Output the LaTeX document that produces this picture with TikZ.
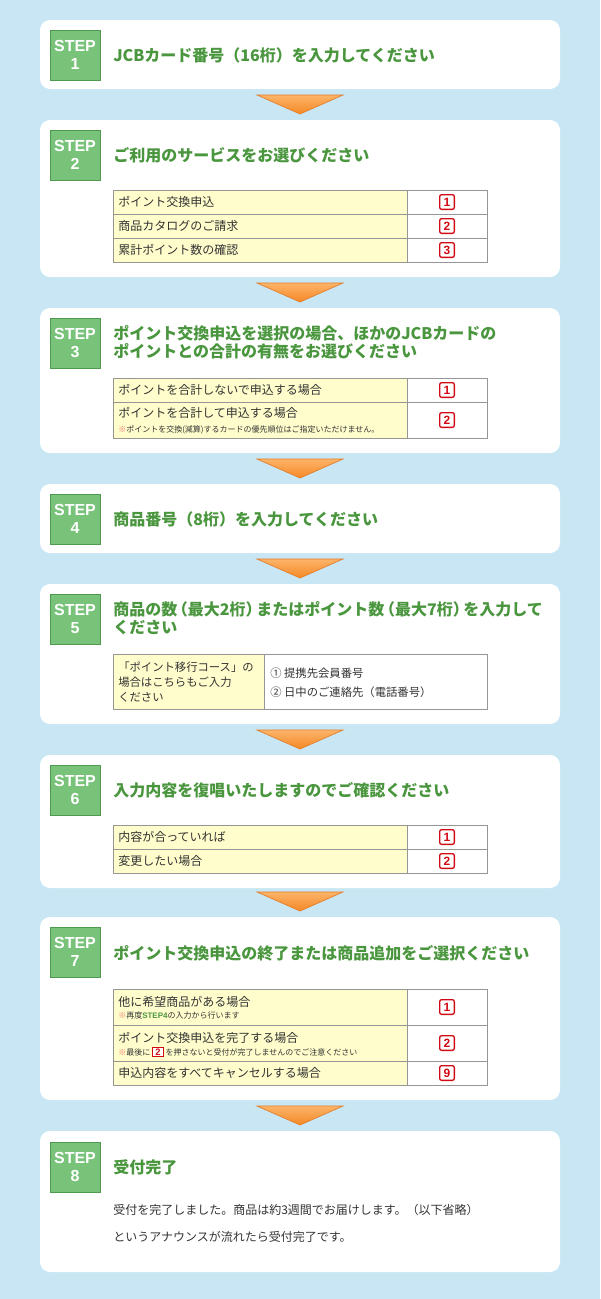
\documentclass[tikz,border=0pt]{standalone}
\usepackage{fontspec}
\setmainfont{Noto Sans CJK JP}
\newfontfamily\stepfont{Liberation Sans}
\usetikzlibrary{positioning}

\definecolor{skyback}{RGB}{200,230,243}
\definecolor{stepgreen}{RGB}{120,194,122}
\definecolor{stepedge}{RGB}{78,154,78}
\definecolor{titlegreen}{RGB}{74,150,62}
\definecolor{cellyellow}{RGB}{255,253,204}
\definecolor{cellline}{RGB}{150,150,150}
\definecolor{numred}{RGB}{210,10,20}
\definecolor{notered}{RGB}{240,110,110}
\definecolor{textgray}{RGB}{51,51,51}
\definecolor{arrowtop}{RGB}{252,180,104}
\definecolor{arrowbot}{RGB}{245,136,38}
\definecolor{arrowedge}{RGB}{228,124,40}

\newcommand{\kome}{\textcolor{notered}{※}}
\newcommand{\inlinenum}[1]{\,{\setlength{\fboxsep}{0.8pt}\setlength{\fboxrule}{0.8pt}\fcolorbox{numred}{white}{\textcolor{numred}{\stepfont\bfseries\fontsize{7}{7}\selectfont\,#1\,}}}\,}
\newcommand{\lparen}{\makebox[8pt][r]{（}}
\newcommand{\rparen}{\makebox[8pt][l]{）}}

\tikzset{
  panel/.style={fill=white, rounded corners=7.5pt},
  stepbadge/.style={draw=stepedge, fill=stepgreen, line width=0.75pt, minimum size=37.5pt, inner sep=0pt,
    text=white, align=center, font=\stepfont\bfseries\fontsize{12}{13.5}\selectfont},
  title/.style={anchor=west, inner sep=0pt, text=titlegreen, align=left, font=\bfseries\fontsize{12}{13.5}\selectfont},
  yellowcell/.style={fill=cellyellow, draw=cellline, line width=0.75pt},
  whitecell/.style={fill=white, draw=cellline, line width=0.75pt},
  celltext/.style={anchor=west, inner sep=0pt, text=textgray, align=left, font=\fontsize{9}{11}\selectfont},
  notetext/.style={anchor=west, inner sep=0pt, text=textgray, font=\fontsize{6}{7}\selectfont},
  numbox/.style={draw=numred, rounded corners=1.5pt, line width=1pt, minimum size=11pt, inner sep=0pt,
    text=numred, font=\stepfont\bfseries\fontsize{9}{9}\selectfont},
  downarrow/.style={draw=arrowedge, line width=0.5pt, top color=arrowtop, bottom color=arrowbot},
}

\begin{document}
\begin{tikzpicture}[x=0.75pt, y=-0.75pt]
    \useasboundingbox[fill=skyback] (0,0) rectangle (600,1299);

    % Panels and arrows
    \foreach \a/\b in {20/89, 120/277, 308/453, 484/553, 584/724, 755/888, 917/1100, 1131/1272}
        \fill[panel] (40,\a) rectangle (560,\b);
    \foreach \t in {95, 283, 459, 559, 730, 892, 1106}
        \draw[downarrow] (257,\t) -- (343,\t) -- (300,{\t+19}) -- cycle;

    % Step badges
    \foreach \n/\y in {1/55, 2/155, 3/343, 4/519, 5/619, 6/790, 7/952, 8/1167}
        \node[stepbadge] (step\n) at (75,\y) {STEP\\\n};

    % Titles
    \node[title] (title1) at (113,55) {JCBカード番号（16桁）を入力してください};
    \node[title] (title2) at (113,155) {ご利用のサービスをお選びください};
    \node[title] (title3) at (113,342) {ポイント交換申込を選択の場合、ほかのJCBカードの\\ポイントとの合計の有無をお選びください};
    \node[title] (title4) at (113,519) {商品番号（8桁）を入力してください};
    \node[title] (title5) at (113,618) {商品の数\lparen 最大2桁\rparen またはポイント数\lparen 最大7桁\rparen を入力して\\ください};
    \node[title] (title6) at (113,790) {入力内容を復唱いたしますのでご確認ください};
    \node[title] (title7) at (113,953) {ポイント交換申込の終了または商品追加をご選択ください};
    \node[title] (title8) at (113,1167) {受付完了};

    % Step 2 table
    \foreach \a/\b in {190/214, 214/238, 238/262} {
        \filldraw[yellowcell] (113,\a) rectangle (407,\b);
        \filldraw[whitecell] (407,\a) rectangle (487,\b);
    }
    \node[celltext] (s2a) at (118,202) {ポイント交換申込};
    \node[celltext] (s2b) at (118,226) {商品カタログのご請求};
    \node[celltext] (s2c) at (118,250) {累計ポイント数の確認};
    \node[numbox] (s2n1) at (447,202) {1};
    \node[numbox] (s2n2) at (447,226) {2};
    \node[numbox] (s2n3) at (447,250) {3};

    % Step 3 table
    \foreach \a/\b in {378/402, 402/438} {
        \filldraw[yellowcell] (113,\a) rectangle (407,\b);
        \filldraw[whitecell] (407,\a) rectangle (487,\b);
    }
    \node[celltext] (s3a) at (118,390) {ポイントを合計しないで申込する場合};
    \node[celltext] (s3b) at (118,413) {ポイントを合計して申込する場合};
    \node[notetext] (s3note) at (118,430) {\kome ポイントを交換(減算)するカードの優先順位はご指定いただけません。};
    \node[numbox] (s3n1) at (447,390) {1};
    \node[numbox] (s3n2) at (447,420) {2};

    % Step 5 table
    \filldraw[yellowcell] (113,654) rectangle (264,709);
    \filldraw[whitecell] (264,654) rectangle (487,709);
    \node[celltext, font=\fontsize{8.5}{11.25}\selectfont] (s5a) at (118,682) {「ポイント移行コース」の\\場合はこちらもご入力\\ください};
    \node[celltext, font=\fontsize{8.5}{14.25}\selectfont] (s5b) at (270,682.5) {① 提携先会員番号\\② 日中のご連絡先（電話番号）};

    % Step 6 table
    \foreach \a/\b in {825/849, 849/873} {
        \filldraw[yellowcell] (113,\a) rectangle (407,\b);
        \filldraw[whitecell] (407,\a) rectangle (487,\b);
    }
    \node[celltext] (s6a) at (118,837) {内容が合っていれば};
    \node[celltext] (s6b) at (118,861) {変更したい場合};
    \node[numbox] (s6n1) at (447,837) {1};
    \node[numbox] (s6n2) at (447,861) {2};

    % Step 7 table
    \foreach \a/\b in {989/1025, 1025/1061, 1061/1085} {
        \filldraw[yellowcell] (113,\a) rectangle (407,\b);
        \filldraw[whitecell] (407,\a) rectangle (487,\b);
    }
    \node[celltext] (s7a) at (118,1002) {他に希望商品がある場合};
    \node[notetext] (s7anote) at (118,1015) {\kome 再度\textcolor{titlegreen}{\stepfont\bfseries STEP4}の入力から行います};
    \node[celltext] (s7b) at (118,1038) {ポイント交換申込を完了する場合};
    \node[notetext] (s7bnote) at (118,1052) {\kome 最後に\inlinenum{2}を押さないと受付が完了しませんのでご注意ください};
    \node[celltext] (s7c) at (118,1073) {申込内容をすべてキャンセルする場合};
    \node[numbox] (s7n1) at (447,1007) {1};
    \node[numbox] (s7n2) at (447,1043) {2};
    \node[numbox] (s7n9) at (447,1073) {9};

    % Step 8 text
    \node[celltext] (s8a) at (113,1210) {受付を完了しました。商品は約3週間でお届けします。（以下省略）};
    \node[celltext] (s8b) at (113,1237) {というアナウンスが流れたら受付完了です。};

\end{tikzpicture}
\end{document}
